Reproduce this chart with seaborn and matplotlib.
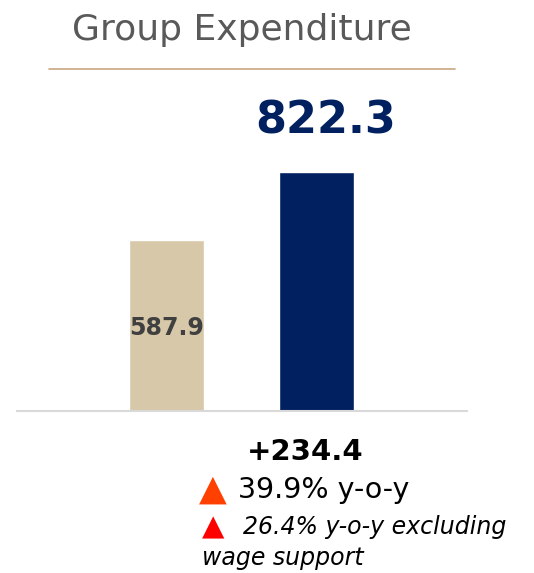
import matplotlib
matplotlib.use("Agg")
import matplotlib.pyplot as plt
import seaborn as sns
import pandas as pd

categories = ["Prior year", "Current year"]
values = [587.9, 822.3]
bar_colors = ["#D6C8A8", "#002060"]
label_colors = ["#404040", "#002060"]
title = "Group Expenditure"
change_text = "+234.4"
yoy_text = "39.9% y-o-y"
yoy_excl_text = "26.4% y-o-y excluding"
yoy_excl_text2 = "wage support"

sns.set_theme(style="white")
plt.rcParams["font.family"] = ["DejaVu Sans"]

W, H = 534, 573
fig = plt.figure(figsize=(W / 100, H / 100), dpi=100)
ax = fig.add_axes([17 / W, (H - 411) / H, 450 / W, 262 / H])

df = pd.DataFrame({"cat": categories, "val": values})
sns.barplot(data=df, x="cat", y="val", hue="cat", palette=bar_colors,
            width=0.5, legend=False, ax=ax, saturation=1)
ax.set_xlim(-1, 2)
ax.set_ylim(0, 900)
ax.set_xticks([])
ax.set_yticks([])
ax.set_xlabel("")
ax.set_ylabel("")
for s in ["top", "right", "left"]:
    ax.spines[s].set_visible(False)
ax.spines["bottom"].set_color("#D9D9D9")
ax.spines["bottom"].set_linewidth(1.5)

# value labels
ax.text(0, values[0] * 0.485, f"{values[0]:.1f}", ha="center", va="center",
        fontsize=17, fontweight="bold", color=label_colors[0])
ax.text(1.055, values[1] + 175, f"{values[1]:.1f}", ha="center", va="center",
        fontsize=32, fontweight="bold", color=label_colors[1])

# title and rule
fig.text(242 / W, 1 - 30 / H, title, ha="center", va="center",
         fontsize=26, color="#595959")
fig.add_artist(plt.Line2D([49 / W, 455 / W], [1 - 69 / H, 1 - 69 / H],
                          color="#C9A77F", linewidth=1.2))

# bottom annotations
fig.text(305 / W, 1 - 452 / H, change_text, ha="center", va="center",
         fontsize=21, fontweight="bold", color="black")
fig.text(212.5 / W, 1 - 490 / H, "\u25B2", ha="center", va="center",
         fontsize=26, color="#FF4000")
fig.text(238 / W, 1 - 490 / H, yoy_text, ha="left", va="center",
         fontsize=20.5, color="black")
fig.text(213 / W, 1 - 527 / H, "\u25B2", ha="center", va="center",
         fontsize=21, color="#FF0000")
fig.text(243 / W, 1 - 527 / H, yoy_excl_text, ha="left", va="center",
         fontsize=17, style="italic", color="black")
fig.text(202 / W, 1 - 558 / H, yoy_excl_text2, ha="left", va="center",
         fontsize=17, style="italic", color="black")

fig.savefig("out.png", dpi=100, facecolor="white")
